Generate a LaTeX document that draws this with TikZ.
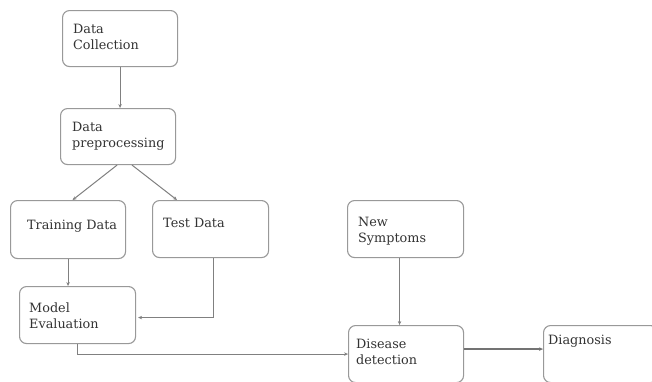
\documentclass[tikz,border=0pt]{standalone}
\usepackage{fontspec}
\setmainfont{DejaVu Serif}
\usetikzlibrary{arrows.meta}
\begin{document}
\begin{tikzpicture}[x=1pt,y=-1pt,
  box/.style={draw=black!40, line width=1.1pt, rounded corners=7pt, anchor=north west, inner sep=0pt, minimum width=115pt, minimum height=56pt},
  lbl/.style={anchor=base west, inner sep=0pt, align=left, font=\fontsize{12.8}{16}\selectfont, text=black!80},
  conn/.style={draw=black!45, line width=1pt, -{Stealth[length=4pt,width=3.5pt]}, black!50}]
\useasboundingbox[fill=white] (0,0) rectangle (652,381);
% boxes
\node[box] (dc) at (62,10) {};
\node[box] (dp) at (60,108) {};
\node[box, minimum height=58pt] (td) at (10,200) {};
\node[box, minimum width=116pt, minimum height=57pt] (ts) at (152,200) {};
\node[box, minimum width=116pt, minimum height=57pt] (me) at (19,286) {};
\node[box, minimum width=116pt, minimum height=57pt] (ns) at (347,200) {};
\node[box, minimum width=115pt, minimum height=57pt] (dd) at (348,325) {};
\node[box, minimum width=114pt, minimum height=57pt] (dg) at (543,325) {};
% labels (base = last line)
\node[lbl] (tdc) at (73,49) {Data\\Collection};
\node[lbl] (tdp) at (72,147) {Data\\preprocessing};
\node[lbl] (ttd) at (27,229) {Training Data};
\node[lbl] (tts) at (163,227) {Test Data};
\node[lbl] (tme) at (29,328) {Model\\Evaluation};
\node[lbl] (tns) at (358,242) {New\\Symptoms};
\node[lbl] (tdd) at (356,364) {Disease\\detection};
\node[lbl] (tdg) at (548,344) {Diagnosis};
% connectors
\draw[conn] (dc.south) -- (dc.south |- dp.north);
\draw[conn] ([xshift=-1pt]dp.south) -- ([xshift=4.5pt]td.north);
\draw[conn] ([xshift=14pt]dp.south) -- ([xshift=25pt]ts.north west);
\draw[conn] (td.south) -- (td.south |- me.north);
\draw[conn] ([xshift=3pt]ts.south) |- ([yshift=-2.5pt,xshift=2pt]me.east);
\draw[conn] (me.south) |- (dd.west);
\draw[conn] ([xshift=-6pt]ns.south) -- ([xshift=-6pt]ns.south |- dd.north);
\draw[conn, line width=1.4pt, black!55] ([yshift=5pt]dd.east) -- ([yshift=5pt]dd.east -| dg.west);
\end{tikzpicture}
\end{document}
